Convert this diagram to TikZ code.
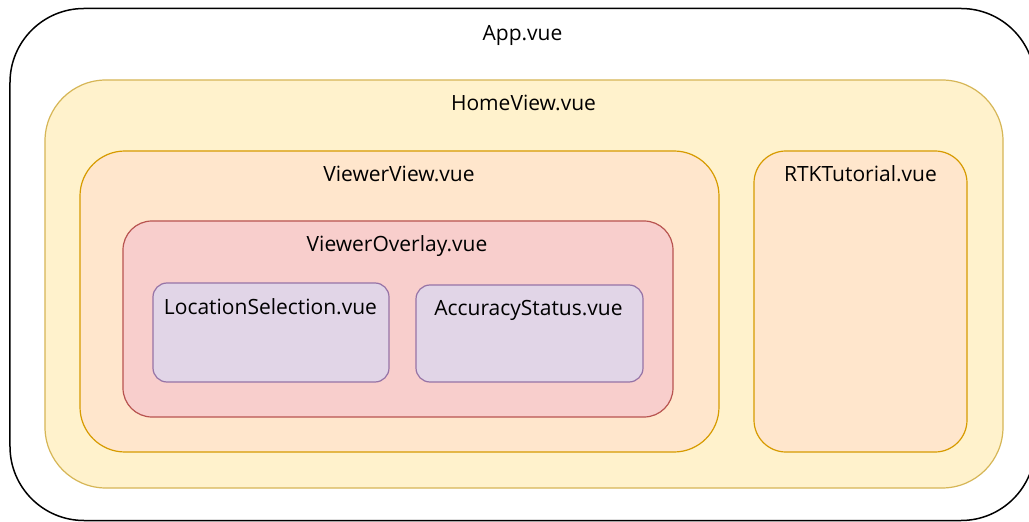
\documentclass[tikz,border=0pt]{standalone}
\usepackage{fontspec}
\setmainfont{Open Sans}
\definecolor{homefill}{HTML}{FFF2CC}
\definecolor{homedraw}{HTML}{D6B656}
\definecolor{viewfill}{HTML}{FFE6CC}
\definecolor{viewdraw}{HTML}{D79B00}
\definecolor{ovlfill}{HTML}{F8CECC}
\definecolor{ovldraw}{HTML}{B85450}
\definecolor{leaffill}{HTML}{E1D5E7}
\definecolor{leafdraw}{HTML}{9673A6}
\tikzset{
  box/.style={rectangle, inner sep=0pt, outer sep=0pt, line width=1.2bp},
  title/.style={anchor=base, inner sep=0pt, font=\fontsize{21bp}{24bp}\selectfont},
}
\begin{document}
\begin{tikzpicture}[x=1bp, y=-1bp]
  \useasboundingbox (0,0) rectangle (1029,522);
  \clip (0,0) rectangle (1029,522);
  \fill[white] (0,0) rectangle (1029,522);

  % App.vue
  \node[box, draw=black, fill=white, line width=1.5bp, rounded corners=74bp,
        minimum width=1025bp, minimum height=512bp] (app) at (522.5,264.5) {};
  \node[title] (appt) at (522.5,41) {App.vue};

  % HomeView.vue
  \node[box, draw=homedraw, fill=homefill, rounded corners=61bp,
        minimum width=958bp, minimum height=408bp] (home) at (524,284) {};
  \node[title] (homet) at (523.5,110.5) {HomeView.vue};

  % ViewerView.vue
  \node[box, draw=viewdraw, fill=viewfill, rounded corners=45bp,
        minimum width=639bp, minimum height=301bp] (viewer) at (399.5,301.5) {};
  \node[title] (viewert) at (399,181.5) {ViewerView.vue};

  % RTKTutorial.vue
  \node[box, draw=viewdraw, fill=viewfill, rounded corners=32bp,
        minimum width=213bp, minimum height=301bp] (rtk) at (860.5,301.5) {};
  \node[title] (rtkt) at (860.5,181.5) {RTKTutorial.vue};

  % ViewerOverlay.vue
  \node[box, draw=ovldraw, fill=ovlfill, rounded corners=29bp,
        minimum width=550bp, minimum height=196bp] (overlay) at (398,319) {};
  \node[title] (overlayt) at (397,251.5) {ViewerOverlay.vue};

  % LocationSelection.vue
  \node[box, draw=leafdraw, fill=leaffill, rounded corners=14bp,
        minimum width=236bp, minimum height=99bp] (loc) at (271,332.5) {};
  \node[title] (loct) at (270.5,315) {LocationSelection.vue};

  % AccuracyStatus.vue
  \node[box, draw=leafdraw, fill=leaffill, rounded corners=14bp,
        minimum width=227bp, minimum height=97bp] (acc) at (529.5,333.5) {};
  \node[title] (acct) at (528.5,316) {AccuracyStatus.vue};
\end{tikzpicture}
\end{document}
